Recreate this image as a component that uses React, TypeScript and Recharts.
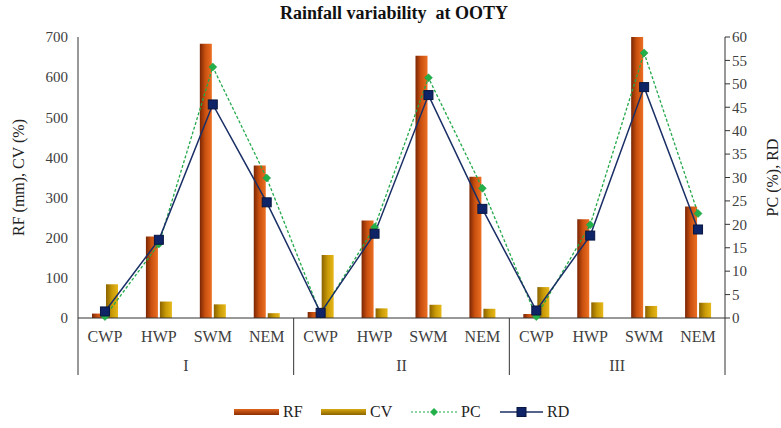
import { ComposedChart, Bar, Line, XAxis, YAxis } from "recharts";

const groups = ["I", "II", "III"];
const seasons = ["CWP", "HWP", "SWM", "NEM"];

// RF (mm) and CV (%) on the left axis, PC (%) and RD on the right
const rf = [11, 203, 683, 380, 15, 243, 653, 352, 10, 246, 700, 278];
const cv = [84, 41, 34, 12, 157, 24, 33, 23, 77, 39, 30, 38];
const pc = [0.3, 15.8, 53.6, 29.9, 0.8, 19.4, 51.3, 27.7, 0.3, 19.9, 56.6, 22.3];
const rd = [1.4, 16.7, 45.6, 24.7, 1.1, 18.0, 47.6, 23.3, 1.6, 17.6, 49.3, 18.9];

const leftTicks = [0, 100, 200, 300, 400, 500, 600, 700];
const rightTicks = [0, 5, 10, 15, 20, 25, 30, 35, 40, 45, 50, 55, 60];

const data = rf.map((v, i) => ({
  key: groups[Math.floor(i / 4)] + "-" + seasons[i % 4],
  season: seasons[i % 4],
  group: groups[Math.floor(i / 4)],
  RF: v,
  CV: cv[i],
  PC: pc[i],
  RD: rd[i],
}));

const W = 781;
const H = 428;
const LEFT_W = 78;
const RIGHT_W = 56;
const BAND = (W - LEFT_W - RIGHT_W) / data.length;
const FONT = "'Liberation Serif', 'Times New Roman', serif";
const TXT = "#404040";

function CatTick(props: any) {
  const { x, y, index } = props;
  const d = data[index];
  if (!d) return null;
  const left = x - BAND / 2;
  return (
    <g>
      <text x={x} y={y + 24} textAnchor="middle" fontFamily={FONT} fontSize={16} fill={TXT}>
        {d.season}
      </text>
      {index % 4 === 0 && <line x1={left} y1={y} x2={left} y2={y + 57} stroke="#333" strokeWidth={1} />}
      {index === data.length - 1 && (
        <line x1={x + BAND / 2} y1={y} x2={x + BAND / 2} y2={y + 57} stroke="#333" strokeWidth={1} />
      )}
      {index % 4 === 1 && (
        <text x={x + BAND / 2} y={y + 53} textAnchor="middle" fontFamily={FONT} fontSize={16} fill={TXT}>
          {d.group}
        </text>
      )}
    </g>
  );
}

function Diamond(props: any) {
  const { cx, cy, index } = props;
  if (cx == null || cy == null) return <g key={index} />;
  const s = 4;
  return (
    <path
      key={index}
      d={`M${cx},${cy - s}L${cx + s},${cy}L${cx},${cy + s}L${cx - s},${cy}Z`}
      fill="#23b04a"
      stroke="#1a9a3c"
      strokeWidth={0.5}
    />
  );
}

function Square(props: any) {
  const { cx, cy, index } = props;
  if (cx == null || cy == null) return <g key={index} />;
  const s = 4.5;
  return (
    <rect key={index} x={cx - s} y={cy - s} width={s * 2} height={s * 2} fill="#0e2466" stroke="#081640" strokeWidth={1} />
  );
}

function LegendItem({ kind, label, left }: { kind: string; label: string; left: number }) {
  let icon = null;
  if (kind === "RF" || kind === "CV") {
    icon = (
      <svg width={45} height={10}>
        <rect x={0} y={2} width={45} height={6} fill={`url(#leg${kind})`} />
      </svg>
    );
  } else if (kind === "PC") {
    icon = (
      <svg width={46} height={10}>
        <line x1={0} y1={5} x2={46} y2={5} stroke="#23a84a" strokeWidth={1.2} strokeDasharray="2 2" />
        <path d="M23,1L27,5L23,9L19,5Z" fill="#23b04a" />
      </svg>
    );
  } else {
    icon = (
      <svg width={43} height={12}>
        <line x1={0} y1={6} x2={43} y2={6} stroke="#1a2f66" strokeWidth={1.5} />
        <rect x={17} y={1.5} width={9} height={9} fill="#0e2466" stroke="#081640" />
      </svg>
    );
  }
  return (
    <div style={{ position: "absolute", left, top: 0, display: "flex", alignItems: "center", gap: 4 }}>
      {icon}
      <span style={{ fontFamily: FONT, fontSize: 16, color: "#222" }}>{label}</span>
    </div>
  );
}

export default function App() {
  return (
    <div style={{ position: "absolute", left: 0, top: 0, width: W, height: H, background: "#fff" }}>
      <svg width={0} height={0} style={{ position: "absolute" }}>
        <defs>
          <linearGradient id="legRF" x1="0" y1="0" x2="0" y2="1">
            <stop offset="0%" stopColor="#e0651c" />
            <stop offset="100%" stopColor="#8c2e04" />
          </linearGradient>
          <linearGradient id="legCV" x1="0" y1="0" x2="0" y2="1">
            <stop offset="0%" stopColor="#d9a710" />
            <stop offset="100%" stopColor="#8a6400" />
          </linearGradient>
        </defs>
      </svg>
      <div
        style={{
          position: "absolute",
          top: 3,
          left: 280,
          whiteSpace: "nowrap",
          fontFamily: FONT,
          fontWeight: "bold",
          fontSize: 18,
          color: "#111",
        }}
      >
        Rainfall variability&nbsp; at OOTY
      </div>
      <ComposedChart
        width={W}
        height={H}
        data={data}
        margin={{ top: 37, right: 0, bottom: 48, left: 0 }}
        barSize={12}
        barGap={2}
      >
        <defs>
          <linearGradient id="gradRF" x1="0" y1="0" x2="1" y2="0">
            <stop offset="0%" stopColor="#7a2604" />
            <stop offset="45%" stopColor="#c9500f" />
            <stop offset="100%" stopColor="#ec6f22" />
          </linearGradient>
          <linearGradient id="gradCV" x1="0" y1="0" x2="1" y2="0">
            <stop offset="0%" stopColor="#8a6200" />
            <stop offset="50%" stopColor="#c99a06" />
            <stop offset="100%" stopColor="#e6b81a" />
          </linearGradient>
        </defs>
        <XAxis
          dataKey="key"
          interval={0}
          height={62}
          tickLine={false}
          tickSize={0}
          tickMargin={0}
          axisLine={{ stroke: "#333" }}
          tick={<CatTick />}
        />
        <YAxis
          yAxisId="l"
          width={LEFT_W}
          domain={[0, 700]}
          ticks={leftTicks}
          tickLine={false}
          axisLine={{ stroke: "#333" }}
          tick={{ fontFamily: FONT, fontSize: 15, fill: TXT }}
          tickMargin={4}
          label={{
            value: "RF (mm), CV (%)",
            angle: -90,
            position: "insideLeft",
            offset: 18,
            style: { fontFamily: FONT, fontSize: 16, fill: "#222", textAnchor: "middle" },
          }}
        />
        <YAxis
          yAxisId="r"
          orientation="right"
          width={RIGHT_W}
          domain={[0, 60]}
          ticks={rightTicks}
          tickSize={5}
          tickLine={{ stroke: "#333" }}
          axisLine={{ stroke: "#333" }}
          tick={{ fontFamily: FONT, fontSize: 15, fill: TXT }}
          tickMargin={2}
          label={{
            value: "PC (%), RD",
            angle: -90,
            position: "insideRight",
            offset: 9,
            style: { fontFamily: FONT, fontSize: 16, fill: "#222", textAnchor: "middle" },
          }}
        />
        <Bar yAxisId="l" dataKey="RF" fill="url(#gradRF)" isAnimationActive={false} />
        <Bar yAxisId="l" dataKey="CV" fill="url(#gradCV)" isAnimationActive={false} />
        <Line
          yAxisId="r"
          dataKey="PC"
          stroke="#23a84a"
          strokeWidth={1.3}
          strokeDasharray="3 2"
          dot={<Diamond />}
          activeDot={false}
          isAnimationActive={false}
        />
        <Line
          yAxisId="r"
          dataKey="RD"
          stroke="#1a2f66"
          strokeWidth={1.5}
          dot={<Square />}
          activeDot={false}
          isAnimationActive={false}
        />
      </ComposedChart>
      <div style={{ position: "absolute", top: 403, left: 0, width: W, height: 20 }}>
        <LegendItem kind="RF" label="RF" left={234} />
        <LegendItem kind="CV" label="CV" left={321} />
        <LegendItem kind="PC" label="PC" left={411} />
        <LegendItem kind="RD" label="RD" left={500} />
      </div>
    </div>
  );
}
